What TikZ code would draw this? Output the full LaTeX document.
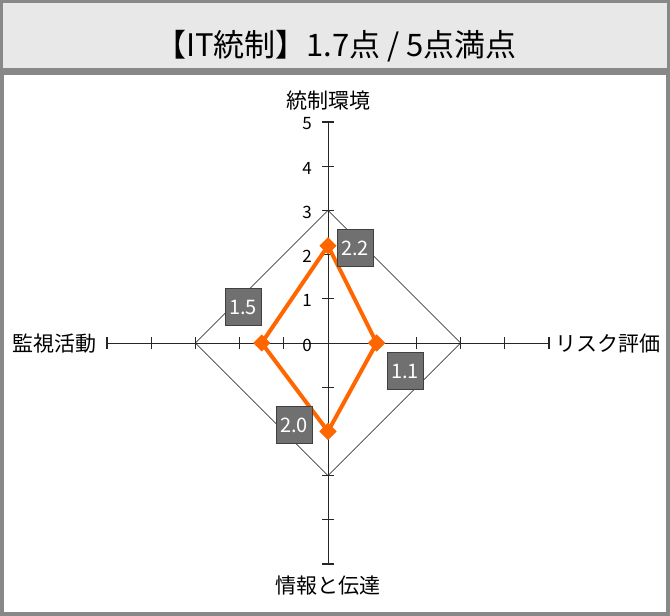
\documentclass[tikz,border=0pt]{standalone}
\usepackage{fontspec}
\setmainfont{Noto Sans CJK JP}
\usetikzlibrary{shapes.geometric}
\definecolor{framegray}{HTML}{888888}
\definecolor{headbg}{HTML}{E8E8E8}
\definecolor{boxgray}{HTML}{707070}
\definecolor{boxedge}{HTML}{404040}
\definecolor{gridcol}{HTML}{404040}
\definecolor{dataorange}{HTML}{FF6600}
\begin{document}
\begin{tikzpicture}[x=1pt,y=-1pt,
  frame/.style={draw=framegray},
  axisline/.style={draw=black!85,line width=0.9pt},
  tickline/.style={draw=black!85,line width=1.1pt},
  gridline/.style={draw=gridcol,line width=0.8pt},
  dataline/.style={draw=dataorange,line width=4pt,line join=round},
  datamark/.style={diamond,fill=dataorange,inner sep=0pt,minimum size=17pt},
  valbox/.style={draw=boxedge,fill=boxgray,text=white,line width=1pt,minimum width=36pt,minimum height=37pt,inner sep=0pt,font=\fontsize{20}{23}\selectfont},
  ticklab/.style={font=\fontsize{17}{20}\selectfont,inner sep=0pt},
  axlab/.style={font=\fontsize{21}{25}\selectfont,inner sep=0pt},
  titlelab/.style={font=\fontsize{31}{36}\selectfont,inner sep=0pt}
]
\useasboundingbox (0,0) rectangle (670,616);
\fill[white] (0,0) rectangle (670,616);
% frames
\draw[frame,fill=headbg,line width=3pt] (1.5,1.5) rectangle (668.5,69.5);
\draw[frame,line width=4pt] (2,73) rectangle (668,614);
\node[titlelab] (title) at (336,46) {【IT統制】1.7点 / 5点満点};

\def\u{44.2}
\coordinate (O) at (328,343);
\coordinate (T) at (328,{343-5*\u});
\coordinate (B) at (328,{343+5*\u});
\coordinate (L) at ({328-5*\u},343);
\coordinate (R) at ({328+5*\u},343);
\coordinate (G1) at (328,{343-3*\u});
\coordinate (G2) at ({328+3*\u},343);
\coordinate (G3) at (328,{343+3*\u});
\coordinate (G4) at ({328-3*\u},343);

% grid diamond (level 3)
\draw[gridline] (G1) -- (G2) -- (G3) -- (G4) -- cycle;

% axes
\draw[axisline] (L) -- (R);
\draw[axisline] (T) -- (B);
\foreach \i in {1,...,5}{
  \draw[tickline] ({328+\i*\u},337) -- ({328+\i*\u},349);
  \draw[tickline] ({328-\i*\u},337) -- ({328-\i*\u},349);
  \draw[tickline] (322,{343+\i*\u}) -- (334,{343+\i*\u});
  \draw[tickline] (322,{343-\i*\u}) -- (334,{343-\i*\u});
}
\foreach \i in {0,...,5}{
  \node[ticklab] (t\i) at (307,{345-\i*\u}) {\i};
}

% axis labels
\node[axlab] (a1) at (328,101) {統制環境};
\node[axlab,anchor=east] (a4) at (97,344) {監視活動};
\node[axlab,anchor=west] (a2) at (555,344) {リスク評価};
\node[axlab] (a3) at (328,586) {情報と伝達};

% data
\node[datamark] (m1) at (328,{343-2.2*\u}) {};
\node[datamark] (m2) at ({328+1.1*\u},343) {};
\node[datamark] (m3) at (328,{343+2.0*\u}) {};
\node[datamark] (m4) at ({328-1.5*\u},343) {};
\draw[dataline] (m1.center) -- (m2.center) -- (m3.center) -- (m4.center) -- cycle;
\node[datamark] at (m1) {};
\node[datamark] at (m2) {};
\node[datamark] at (m3) {};
\node[datamark] at (m4) {};

% value boxes
\node[valbox] (v1) at (355,248) {2.2};
\node[valbox] (v2) at (405,371) {1.1};
\node[valbox] (v3) at (294,425) {2.0};
\node[valbox] (v4) at (243,307) {1.5};
\end{tikzpicture}
\end{document}
